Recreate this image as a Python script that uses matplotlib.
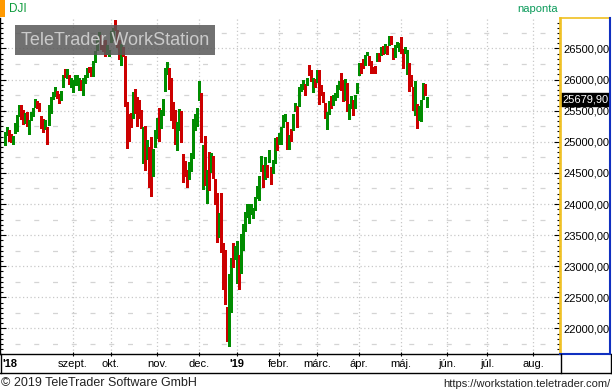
import numpy as np
import pandas as pd
import matplotlib
matplotlib.use('Agg')
import matplotlib.pyplot as plt
from matplotlib.patches import Rectangle
import matplotlib.transforms as mtransforms
from matplotlib.ticker import FixedLocator, MultipleLocator, FuncFormatter

plt.rcParams['font.family'] = ['Liberation Sans', 'DejaVu Sans']

symbol = 'DJI'
interval_label = 'naponta'
last_price = 25679.90
first_day = '2018-07-17'
last_day = '2019-05-20'
axis_end = '2019-08-30'
holidays = ['2018-09-03', '2018-11-22', '2018-12-05', '2018-12-25', '2019-01-01',
            '2019-01-21', '2019-02-18', '2019-04-19']

opens = [
    25028, 25128, 25163, 25060, 25014, 25140, 25240, 25423, 25542, 25469, 25329,
    25416, 25300, 25363, 25458, 25552, 25624, 25583, 25423, 25313, 25208, 25237, 25265, 25542, 25699, 25776, 25799, 25723, 25710, 25879, 26085, 26091, 26080, 25965,
    25916, 25932, 25985, 25882, 25949, 25806, 25964, 26036, 26158, 26161, 26085, 26286, 26470, 26696, 26712, 26590, 26503, 26431, 26412,
    26598, 26662, 26833, 26788, 26627, 26432, 26455, 26380, 25540, 25358, 25308, 25375, 25760, 25624, 25456, 25502, 25038, 25193, 24765, 24719, 24818, 24470, 25024,
    25103, 25497, 25268, 25450, 25843, 26149, 26154, 25976, 25427, 25385, 24985, 25245, 25384, 24791, 24536, 24454, 24475, 24556, 24811, 25290, 25312,
    25780, 25781, 24737, 24918, 24309, 24641, 24526, 24610, 24398, 24047, 23673, 23690, 23225, 22871, 22317, 21857, 22629, 23213, 23154,
    23058, 23177, 22894, 23474, 23681, 23865, 23800, 23939, 23889, 23942, 24110, 24131, 24535, 24590, 24525, 24566, 24689, 24597, 24531, 24681, 25028,
    25025, 25063, 25239, 25371, 25265, 24984, 25195, 25185, 25492, 25475, 25580, 25834, 25896, 25929, 25906, 26127, 26075, 25978, 25978,
    26019, 26123, 25836, 25801, 25626, 25358, 25445, 25693, 25595, 25694, 25728, 25858, 25964, 25869, 25694, 25925, 25466, 25628, 25675, 25611, 25829,
    26076, 26257, 26254, 26244, 26412, 26384, 26274, 26166, 26191, 26295, 26414, 26438, 26500, 26452, 26519, 26554, 26647, 26501, 26459, 26550, 26565,
    26639, 26418, 26420, 26233, 26274, 25973, 25889, 25792, 25600, 25352, 25457, 25720, 25790, 25668,
]
highs = [
    25154, 25244, 25182, 25126, 25086, 25307, 25434, 25587, 25595, 25508, 25467,
    25475, 25350, 25477, 25542, 25692, 25651, 25630, 25423, 25366, 25352, 25237, 25596, 25715, 25797, 25888, 25818, 25774, 25814, 26069, 26167, 26167, 26080, 26018,
    25989, 26066, 26069, 26027, 25997, 26019, 26081, 26192, 26206, 26204, 26300, 26466, 26669, 26769, 26712, 26617, 26642, 26557, 26480,
    26775, 26827, 26952, 26790, 26641, 26570, 26525, 26380, 25641, 25447, 25456, 25804, 25850, 25721, 25680, 25517, 25234, 25252, 25035, 24918, 25071, 24885, 25194,
    25380, 25541, 25504, 25693, 26190, 26277, 26186, 26020, 25647, 25516, 25316, 25529, 25489, 24806, 24690, 24540, 24680, 24817, 25366, 25443, 25542,
    25980, 25781, 24948, 25090, 24541, 24837, 24828, 24779, 24399, 24185, 23849, 24180, 23381, 23255, 22339, 22878, 23139, 23381, 23333,
    23413, 23177, 23518, 23687, 23865, 24003, 24002, 24000, 23935, 24113, 24296, 24456, 24777, 24624, 24752, 24630, 24863, 24597, 24709, 25061, 25079,
    25146, 25239, 25439, 25443, 25314, 25110, 25200, 25441, 25625, 25571, 25884, 25935, 26000, 25931, 26033, 26241, 26155, 26020, 26010,
    26156, 26155, 25918, 25804, 25626, 25475, 25651, 25733, 25752, 25791, 25906, 25977, 26109, 25999, 26005, 25953, 25610, 25742, 25679, 25745, 25949,
    26259, 26274, 26338, 26397, 26447, 26384, 26291, 26206, 26220, 26426, 26426, 26520, 26546, 26566, 26548, 26696, 26695, 26501, 26552, 26611, 26593,
    26679, 26486, 26531, 26468, 26274, 26066, 25889, 25976, 25600, 25578, 25678, 25940, 25924, 25728,
]
lows = [
    24945, 25105, 25008, 25002, 24966, 25140, 25170, 25412, 25373, 25284, 25309,
    25258, 25123, 25348, 25417, 25552, 25550, 25498, 25225, 25152, 25208, 24965, 25265, 25456, 25681, 25741, 25700, 25618, 25679, 25879, 26045, 26026, 25928, 25885,
    25806, 25913, 25910, 25833, 25840, 25747, 25943, 26036, 26120, 26051, 26065, 26275, 26470, 26672, 26495, 26467, 26383, 26405, 26386,
    26598, 26633, 26799, 26528, 26325, 26233, 26383, 25583, 24899, 25007, 25240, 25375, 25458, 25255, 25383, 25228, 24660, 24555, 24721, 24275, 24122, 24448, 24920,
    25059, 25011, 25227, 25435, 25813, 26082, 25845, 25354, 25216, 24961, 24874, 25196, 24997, 24348, 24450, 24268, 24409, 24534, 24744, 25193, 25253,
    25665, 24991, 24242, 24301, 24020, 24228, 24511, 24426, 23994, 23395, 23470, 23230, 22640, 22396, 21792, 21713, 22267, 22981, 23119,
    22734, 22638, 22894, 23267, 23571, 23787, 23703, 23842, 23770, 23904, 24105, 24061, 24535, 24272, 24406, 24430, 24681, 24317, 24494, 24658, 24871,
    24962, 24961, 25239, 25340, 24884, 24884, 25017, 25185, 25492, 25245, 25580, 25811, 25849, 25750, 25906, 26072, 25979, 25800, 25885,
    25960, 25609, 25745, 25632, 25390, 25208, 25444, 25540, 25595, 25665, 25728, 25843, 25838, 25654, 25676, 25502, 25372, 25548, 25433, 25541, 25787,
    26076, 26105, 26182, 26229, 26388, 26232, 26099, 26099, 26099, 26295, 26303, 26392, 26415, 26429, 26411, 26554, 26573, 26337, 26371, 26518, 26453,
    26430, 26186, 26420, 26095, 25810, 25895, 25517, 25431, 25222, 25348, 25331, 25687, 25748, 25565,
]
closes = [
    25120, 25199, 25064, 25058, 25044, 25242, 25414, 25527, 25451, 25307, 25415,
    25334, 25326, 25463, 25502, 25629, 25584, 25509, 25313, 25188, 25300, 25162, 25559, 25669, 25759, 25822, 25734, 25657, 25790, 26050, 26064, 26125, 25987, 25965,
    25952, 25975, 25996, 25917, 25857, 25971, 25999, 26146, 26155, 26062, 26247, 26406, 26657, 26744, 26562, 26492, 26385, 26440, 26458,
    26651, 26774, 26828, 26627, 26447, 26487, 26431, 25599, 25053, 25340, 25251, 25798, 25707, 25379, 25444, 25317, 25191, 24583, 24985, 24688, 24443, 24875, 25116,
    25381, 25271, 25462, 25635, 26180, 26191, 25989, 25387, 25286, 25081, 25289, 25413, 25017, 24466, 24465, 24286, 24640, 24749, 25366, 25339, 25538,
    25826, 25027, 24948, 24389, 24423, 24370, 24527, 24597, 24101, 23593, 23676, 23324, 22860, 22445, 21792, 22878, 23139, 23062, 23327,
    23346, 22686, 23433, 23531, 23787, 23879, 24002, 23996, 23910, 24066, 24207, 24370, 24706, 24404, 24576, 24553, 24737, 24528, 24580, 25015, 25000,
    25064, 25239, 25412, 25390, 25170, 25106, 25053, 25426, 25543, 25439, 25883, 25891, 25954, 25851, 26032, 26092, 26058, 25985, 25916,
    26026, 25820, 25807, 25673, 25473, 25450, 25651, 25555, 25703, 25710, 25849, 25914, 25887, 25746, 25963, 25502, 25517, 25658, 25626, 25717, 25929,
    26258, 26179, 26218, 26385, 26425, 26341, 26151, 26157, 26143, 26412, 26385, 26453, 26450, 26560, 26511, 26656, 26597, 26462, 26543, 26554, 26593,
    26430, 26308, 26505, 26438, 25965, 25967, 25828, 25942, 25325, 25532, 25648, 25863, 25764, 25680,
]

month_labels = {1: "'19", 2: 'febr.', 3: 'márc.', 4: 'ápr.', 5: 'máj.', 6: 'jún.',
                7: 'júl.', 8: 'aug.', 9: 'szept.', 10: 'okt.', 11: 'nov.', 12: 'dec.'}
year_start_label = "'18"
y_label_step = 500
copyright_text = '© 2019 TeleTrader Software GmbH'
url_text = 'https://workstation.teletrader.com/'
watermark_text = 'TeleTrader WorkStation'

# ---- dates ----
hist = pd.bdate_range(first_day, last_day)
hist = hist[~hist.isin(pd.to_datetime(holidays))]
n = min(len(hist), len(closes))
hist = hist[:n]
future = pd.bdate_range(pd.Timestamp(last_day) + pd.Timedelta(days=1), axis_end)
all_dates = hist.append(future)

o = np.array(opens[:n], float)
h = np.array(highs[:n], float)
l = np.array(lows[:n], float)
c = np.array(closes[:n], float)
idx = np.arange(n)

W, H = 612, 392
fig = plt.figure(figsize=(W / 100, H / 100), dpi=100)
fig.patch.set_facecolor('white')

# plot area in pixels
px_l, px_r, px_t, px_b = 0, 560, 18, 354
ax = fig.add_axes([px_l / W, 1 - px_b / H, (px_r - px_l) / W, (px_b - px_t) / H])
ax.set_facecolor('white')
ax.set_xlim(-2.5, 277.5)
ax.set_ylim(21590, 26990)

green = '#008c00'
red = '#cc0000'
cols = np.where(c >= o, green, red)

# grid
grid_col = '#c8c8c8'
for yv in np.arange(22000, 27000, y_label_step):
    ax.axhline(yv, color=grid_col, lw=0.9, ls=(0, (1, 2)), zorder=0.5)
for yv in np.arange(21750, 27000, y_label_step):
    ax.axhline(yv, color='#d4d4d4', lw=0.9, ls=(3, (4, 11)), zorder=0.5)

month_pos = []
month_txt = []
for i in range(1, len(all_dates)):
    if all_dates[i].month != all_dates[i - 1].month and i > 30:
        month_pos.append(i)
        month_txt.append(month_labels[all_dates[i].month])
for mp in month_pos:
    ax.axvline(mp, color=grid_col, lw=0.9, ls=(0, (1, 2)), zorder=0.5)

# candles
ax.vlines(idx, l, h, colors=cols, lw=0.9, zorder=2, antialiased=False)
body_bottom = np.minimum(o, c)
body_h = np.maximum(np.abs(c - o), 12)
ax.bar(idx, body_h, bottom=body_bottom, width=1.3, color=cols, lw=0, zorder=3,
       antialiased=False)

# axes styling
ax.spines['top'].set_visible(False)
ax.spines['left'].set_color('black')
ax.spines['left'].set_linewidth(1.0)
ax.spines['bottom'].set_color('black')
ax.spines['bottom'].set_linewidth(1.0)
ax.spines['right'].set_color('#f0c020')
ax.spines['right'].set_linewidth(1.2)

ax.yaxis.set_major_locator(MultipleLocator(y_label_step))
ax.yaxis.set_minor_locator(MultipleLocator(y_label_step / 6))
ax.yaxis.set_major_formatter(FuncFormatter(lambda v, p: f'{v:.2f}'.replace('.', ',')))
ax.tick_params(axis='y', which='both', direction='in', left=True, right=True,
               labelleft=False, labelright=True, labelsize=8, pad=2.2, colors='black')
ax.tick_params(axis='y', which='major', length=4.5, width=0.8)
ax.tick_params(axis='y', which='minor', length=2.2, width=0.8)

ax.xaxis.set_major_locator(FixedLocator(month_pos))
ax.xaxis.set_major_formatter(FuncFormatter(lambda v, p: ''))
ax.tick_params(axis='x', which='major', direction='inout', length=3, width=0.8,
               colors='black', labelsize=8)

# month labels
trans_x = mtransforms.blended_transform_factory(ax.transData, fig.transFigure)
for mp, t in zip(month_pos, month_txt):
    bold = t.startswith("'")
    ax.text(mp, 1 - 364 / H, t, transform=trans_x, ha='center', va='center',
            fontsize=8, fontweight='bold' if bold else 'normal', color='black', clip_on=False)

# last price tag
trans_y = mtransforms.blended_transform_factory(ax.transAxes, ax.transData)
ax.text(1.0 + 2 / 560, last_price, f'{last_price:.2f}'.replace('.', ','), transform=trans_y,
        ha='left', va='center', fontsize=8, color='white', zorder=10, clip_on=False,
        bbox=dict(boxstyle='square,pad=0.12', facecolor='black', edgecolor='black'))

# overlay in pixel coordinates
ov = fig.add_axes([0, 0, 1, 1], facecolor='none')
ov.set_xlim(0, W)
ov.set_ylim(H, 0)
ov.axis('off')

# watermark
ov.add_patch(Rectangle((15, 25), 200, 30, facecolor='#585858', alpha=0.85, lw=0, zorder=5))
ov.text(115, 40.5, watermark_text, ha='center', va='center', fontsize=13,
        color='#cacaca', zorder=6)

# header
ov.add_patch(Rectangle((0, 0), 5, 17, facecolor='#ff9900', lw=0))
ov.text(9, 9, symbol, ha='left', va='center', fontsize=8.5, color='#0a9a3a')
ov.text(558, 9, interval_label, ha='right', va='center', fontsize=8, color='#0a9a5a')

# right panel borders
ov.plot([560, 610], [17.5, 17.5], color='#f0c020', lw=1.2)
ov.plot([560.5, 560.5], [17.5, 354], color='#f0c020', lw=1.2)
ov.plot([609.5, 609.5], [17.5, 353.5], color='#1030c0', lw=1.5)
ov.plot([560, 610], [353.5, 353.5], color='#1030c0', lw=1.5)

# x axis strip borders
ov.plot([0, 612], [373, 373], color='black', lw=1.0)
ov.plot([560.5, 560.5], [354, 373], color='black', lw=1.0)
ov.plot([610.5, 610.5], [354, 373], color='black', lw=1.0)
ov.plot([0.5, 0.5], [354, 373], color='black', lw=1.0)

ov.text(2, 364, year_start_label, ha='left', va='center', fontsize=8, fontweight='bold', color='black')

# footer
ov.text(1, 383, copyright_text, ha='left', va='center', fontsize=9, color='#222222')
ov.text(610, 384, url_text, ha='right', va='center', fontsize=8, color='#222222')

fig.savefig('out.png', dpi=100)
